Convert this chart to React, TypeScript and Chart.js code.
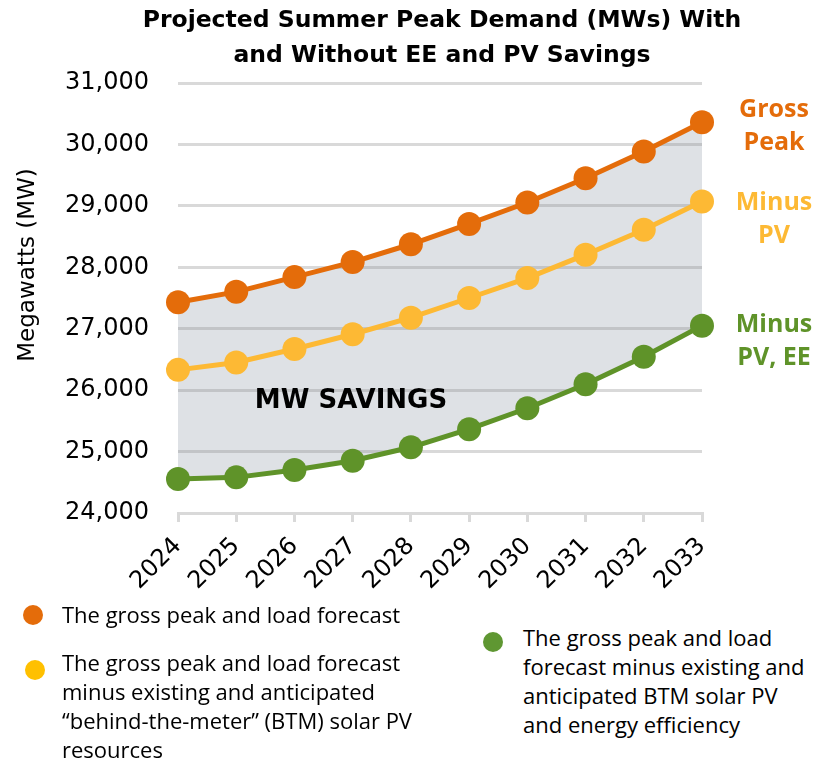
import React, { useEffect, useRef } from "react";
import { Chart, registerables } from "chart.js";

Chart.register(...registerables);

// ---- data ----
const years = ["2024", "2025", "2026", "2027", "2028", "2029", "2030", "2031", "2032", "2033"];
const grossPeak = [27430, 27600, 27840, 28085, 28375, 28705, 29055, 29450, 29885, 30360];
const minusPV = [26330, 26450, 26670, 26910, 27180, 27500, 27825, 28205, 28610, 29070];
const minusPVEE = [24555, 24580, 24700, 24850, 25070, 25365, 25705, 26095, 26545, 27050];
const yMin = 24000;
const yMax = 31000;
const yStep = 1000;

const titleLines = ["Projected Summer Peak Demand (MWs) With", "and Without EE and PV Savings"];
const yTitle = "Megawatts (MW)";
const savingsLabel = "MW SAVINGS";
const endLabels = [
  { lines: ["Gross", "Peak"], color: "#E46C0A", top: 91 },
  { lines: ["Minus", "PV"], color: "#FDB934", top: 184 },
  { lines: ["Minus", "PV, EE"], color: "#5F9329", top: 306 },
];
const legendGross = ["The gross peak and load forecast"];
const legendPV = [
  "The gross peak and load forecast",
  "minus existing and anticipated",
  "\u201Cbehind-the-meter\u201D (BTM) solar PV",
  "resources",
];
const legendPVEE = [
  "The gross peak and load",
  "forecast minus existing and",
  "anticipated BTM solar PV",
  "and energy efficiency",
];

const ORANGE = "#E46C0A";
const YELLOW = "#FDB934";
const GREEN = "#5F9329";
const FILL = "#DEE1E5";
const GRID = "rgba(128,128,128,0.3)";

const W = 819;
const H = 760;
const CANVAS_H = 600;

export default function App() {
  const canvasRef = useRef<HTMLCanvasElement | null>(null);

  useEffect(() => {
    document.body.style.margin = "0";
    const canvas = canvasRef.current;
    if (!canvas) return;
    const chart = new Chart(canvas, {
      type: "line",
      data: {
        labels: years,
        datasets: [
          {
            label: "Gross Peak",
            data: grossPeak,
            borderColor: ORANGE,
            backgroundColor: FILL,
            pointBackgroundColor: ORANGE,
            pointBorderColor: ORANGE,
            pointBorderWidth: 0,
            pointRadius: 12,
            borderWidth: 5,
            fill: 2,
            tension: 0,
          },
          {
            label: "Minus PV",
            data: minusPV,
            borderColor: YELLOW,
            backgroundColor: YELLOW,
            pointBackgroundColor: YELLOW,
            pointBorderColor: YELLOW,
            pointBorderWidth: 0,
            pointRadius: 12,
            borderWidth: 5,
            fill: false,
            tension: 0,
          },
          {
            label: "Minus PV, EE",
            data: minusPVEE,
            borderColor: GREEN,
            backgroundColor: GREEN,
            pointBackgroundColor: GREEN,
            pointBorderColor: GREEN,
            pointBorderWidth: 0,
            pointRadius: 12,
            borderWidth: 5,
            fill: false,
            tension: 0,
          },
        ],
      },
      options: {
        responsive: false,
        animation: false,
        layout: { padding: { top: 83, right: 117, left: 0, bottom: 0 } },
        plugins: {
          legend: { display: false },
          title: { display: false },
          tooltip: { enabled: false },
          filler: { drawTime: "beforeDraw" } as any,
        },
        scales: {
          x: {
            offset: false,
            grid: {
              drawOnChartArea: false,
              drawTicks: true,
              tickLength: 9,
              color: "#D9D9D9",
              lineWidth: 3,
            },
            border: { display: true, color: "#D9D9D9", width: 3 },
            ticks: {
              autoSkip: false,
              maxRotation: 45,
              minRotation: 45,
              padding: 10,
              color: "#000",
              font: { family: "DejaVu Sans", size: 24 },
            },
            afterFit: (scale: any) => {
              scale.height = CANVAS_H - 513;
            },
          },
          y: {
            min: yMin,
            max: yMax,
            grid: { color: GRID, lineWidth: 3, drawTicks: false },
            border: { display: false },
            ticks: {
              stepSize: yStep,
              padding: 29,
              color: "#000",
              font: { family: "DejaVu Sans", size: 24 },
              callback: (v: any) => Number(v).toLocaleString("en-US"),
            },
            afterFit: (scale: any) => {
              scale.width = 178;
            },
          },
        },
      },
    });
    return () => chart.destroy();
  }, []);

  const legendText: React.CSSProperties = {
    position: "absolute",
    fontFamily: "'Open Sans', sans-serif",
    fontSize: 22,
    lineHeight: "29px",
    color: "#000",
    whiteSpace: "nowrap",
  };
  const dot = (color: string, cx: number, cy: number): React.CSSProperties => ({
    position: "absolute",
    left: cx - 10,
    top: cy - 10,
    width: 20,
    height: 20,
    borderRadius: "50%",
    background: color,
  });

  return (
    <div style={{ position: "relative", width: W, height: H, background: "#fff", overflow: "hidden" }}>
      <canvas ref={canvasRef} width={W} height={CANVAS_H} style={{ position: "absolute", left: 0, top: 0, width: W, height: CANVAS_H }} />
      <div
        style={{
          position: "absolute",
          left: 442,
          top: 2,
          transform: "translateX(-50%)",
          fontFamily: "'DejaVu Sans', sans-serif",
          fontWeight: "bold",
          fontSize: 23.5,
          lineHeight: "35px",
          textAlign: "center",
          whiteSpace: "nowrap",
          color: "#000",
        }}
      >
        {titleLines.map((l, i) => (
          <div key={i}>{l}</div>
        ))}
      </div>
      <div
        style={{
          position: "absolute",
          left: 26,
          top: 265,
          transform: "translate(-50%, -50%) rotate(-90deg)",
          fontFamily: "'DejaVu Sans', sans-serif",
          fontSize: 23,
          whiteSpace: "nowrap",
          color: "#000",
        }}
      >
        {yTitle}
      </div>
      <div
        style={{
          position: "absolute",
          left: 351,
          top: 399,
          transform: "translate(-50%, -50%)",
          fontFamily: "'DejaVu Sans', sans-serif",
          fontWeight: "bold",
          fontSize: 26,
          whiteSpace: "nowrap",
          color: "#000",
        }}
      >
        {savingsLabel}
      </div>
      {endLabels.map((lab, i) => (
        <div
          key={i}
          style={{
            position: "absolute",
            left: 774,
            top: lab.top,
            transform: "translateX(-50%)",
            fontFamily: "'Open Sans', sans-serif",
            fontWeight: "bold",
            fontSize: 25,
            lineHeight: "33px",
            textAlign: "center",
            whiteSpace: "nowrap",
            color: lab.color,
          }}
        >
          {lab.lines.map((l, j) => (
            <div key={j}>{l}</div>
          ))}
        </div>
      ))}
      <div style={dot("#E46C0A", 33, 615)} />
      <div style={{ ...legendText, left: 62, top: 600 }}>
        {legendGross.map((l, i) => (
          <div key={i}>{l}</div>
        ))}
      </div>
      <div style={dot("#FFC000", 35, 670)} />
      <div style={{ ...legendText, left: 62, top: 648 }}>
        {legendPV.map((l, i) => (
          <div key={i}>{l}</div>
        ))}
      </div>
      <div style={dot("#5F9732", 493, 642)} />
      <div style={{ ...legendText, left: 523, top: 623 }}>
        {legendPVEE.map((l, i) => (
          <div key={i}>{l}</div>
        ))}
      </div>
    </div>
  );
}
